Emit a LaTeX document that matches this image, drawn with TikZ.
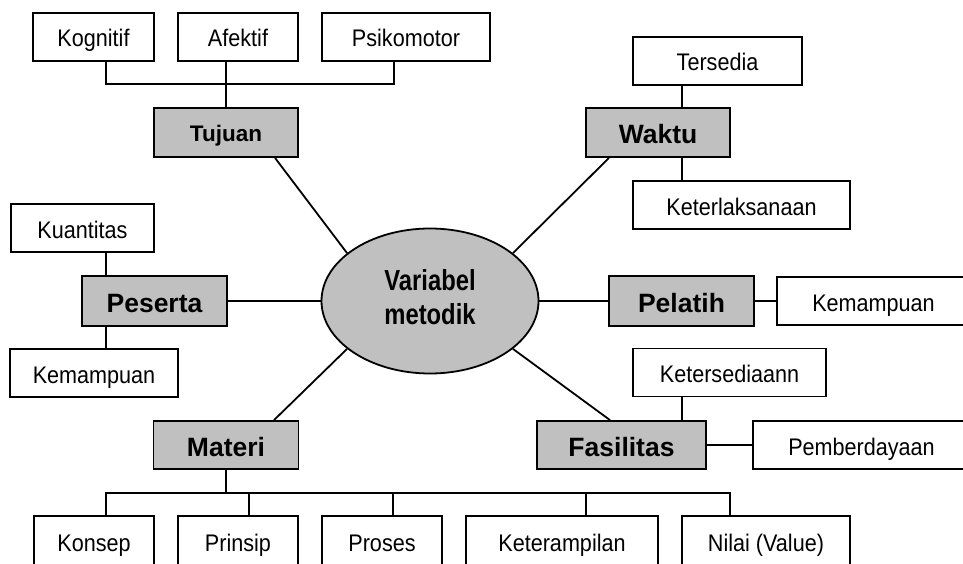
\documentclass[tikz,border=0pt]{standalone}
\usepackage{fontspec}
\setmainfont{Liberation Sans}
\newfontfamily\regf{Liberation Sans}[FakeStretch=0.9]
\newfontfamily\narrowf{Liberation Sans}[FakeStretch=0.82]
\usetikzlibrary{shapes.geometric}
\definecolor{boxgray}{RGB}{192,192,192}
\tikzset{
  leaf/.style={draw, fill=white, inner sep=0pt, minimum height=48pt,
    font=\regf\fontsize{24}{28}\selectfont, text height=20pt, text depth=0pt},
  cat/.style={draw, fill=boxgray, inner sep=0pt, minimum height=49pt,
    font=\bfseries\fontsize{26.5}{30}\selectfont, text height=22pt, text depth=0pt},
  hub/.style={draw, ellipse, fill=boxgray, inner sep=0pt, minimum width=217pt,
    minimum height=145pt, align=center, text height=50pt, text depth=4pt,
    font=\narrowf\bfseries\fontsize{29}{34}\selectfont},
  conn/.style={draw, line width=1.8pt}
}
\begin{document}
\begin{tikzpicture}[x=1pt, y=-1pt, line width=1.8pt]
\clip (0,0) rectangle (963,564);
% hub
\node[hub] (v) at (430,301) {Variabel\\metodik};
% Tujuan group
\node[leaf, minimum width=121pt] (kog) at (93.5,37) {Kognitif};
\node[leaf, minimum width=120pt] (afe) at (238,37) {Afektif};
\node[leaf, minimum width=168pt] (psi) at (406,37) {Psikomotor};
\node[cat, minimum width=144pt, font=\bfseries\fontsize{22.5}{26}\selectfont, text height=18.5pt] (tuj) at (226,132.5) {Tujuan};
\coordinate (tbl) at (106,84);
\coordinate (tbr) at (394,84);
\draw[conn] (kog.south -| tbl) -- (tbl) -- (tbr) -- (psi.south -| tbr);
\draw[conn] (afe.south -| tuj.north) -- (tuj.north);
% Waktu group
\node[leaf, minimum width=169pt] (ter) at (717.5,61) {Tersedia};
\node[cat, minimum width=144pt] (wak) at (658,132.5) {Waktu};
\node[leaf, minimum width=217pt] (ket) at (741.5,205) {Keterlaksanaan};
\coordinate (wx) at (682,0);
\draw[conn] (ter.south -| wx) -- (wak.north -| wx);
\draw[conn] (wak.south -| wx) -- (ket.north -| wx);
% Peserta group
\node[leaf, minimum width=143pt] (kua) at (82.5,228) {Kuantitas};
\node[cat, minimum width=145pt, minimum height=50pt] (pes) at (154.5,301) {Peserta};
\node[leaf, minimum width=168pt] (kml) at (94,373) {Kemampuan};
\coordinate (px) at (106,0);
\draw[conn] (kua.south -| px) -- (pes.north -| px);
\draw[conn] (pes.south -| px) -- (kml.north -| px);
% Pelatih group
\node[cat, minimum width=145pt, minimum height=50pt] (pel) at (681.5,301) {Pelatih};
\node[leaf, minimum width=193pt] (kmr) at (873.5,301) {Kemampuan};
\draw[conn] (pel.east) -- (kmr.west);
% Fasilitas group
\node[leaf, minimum width=193pt] (kts) at (729.5,372.5) {Ketersediaann};
\node[cat, minimum width=169pt, minimum height=48pt] (fas) at (621.5,445) {Fasilitas};
\node[leaf, minimum width=217pt] (pem) at (861.5,445) {Pemberdayaan};
\draw[conn] (kts.south -| wx) -- (fas.north -| wx);
\draw[conn] (fas.east) -- (pem.west);
% Materi group
\node[cat, minimum width=145pt, minimum height=48pt] (mat) at (226,445) {Materi};
\node[leaf, minimum width=120pt, minimum height=50pt] (kon) at (94,541) {Konsep};
\node[leaf, minimum width=120pt, minimum height=50pt] (pri) at (238,541) {Prinsip};
\node[leaf, minimum width=120pt, minimum height=50pt] (pro) at (382,541) {Proses};
\node[leaf, minimum width=192pt, minimum height=50pt] (ktp) at (562,541) {Keterampilan};
\node[leaf, minimum width=168pt, minimum height=50pt] (nil) at (766,541) {Nilai (Value)};
\coordinate (mb1) at (106,493);
\coordinate (mb2) at (249,493);
\coordinate (mb3) at (393,493);
\coordinate (mb4) at (586,493);
\coordinate (mb5) at (730,493);
\draw[conn] (kon.north -| mb1) -- (mb1) -- (mb5) -- (nil.north -| mb5);
\draw[conn] (mb2) -- (pri.north -| mb2);
\draw[conn] (mb3) -- (pro.north -| mb3);
\draw[conn] (mb4) -- (ktp.north -| mb4);
\draw[conn] (mat.south) -- (mat.south |- mb1);
% hub connectors
\draw[conn] ([xshift=49pt]tuj.south) -- (v.150);
\draw[conn] ([xshift=-49pt]wak.south) -- (v.30);
\draw[conn] ([xshift=48pt]mat.north) -- (v.210);
\draw[conn] ([xshift=-11.5pt]fas.north) -- (v.330);
\draw[conn] (pes.east) -- (pes.east -| v.west);
\draw[conn] (v.east) -- (pel.west);
\end{tikzpicture}
\end{document}
